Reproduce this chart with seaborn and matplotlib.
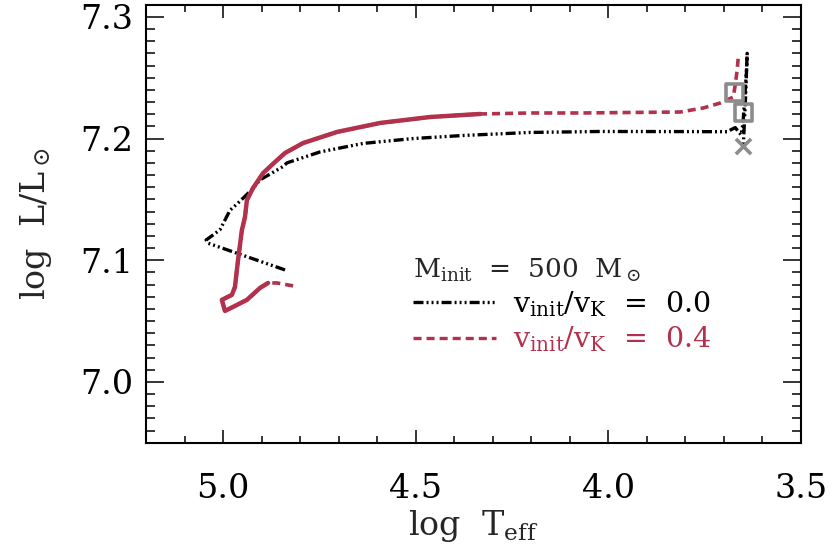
import numpy as np
import pandas as pd
import matplotlib
matplotlib.use("Agg")
import matplotlib.pyplot as plt
import seaborn as sns

# ---- data ----
# v_init/v_K = 0.0 track (log Teff, log L)
teff_v00 = [4.839, 4.930, 5.039, 5.044, 5.029, 5.008, 4.982, 4.961, 4.925, 4.904,
            4.844, 4.834, 4.748, 4.636, 4.506, 4.377, 4.203, 4.021, 3.800, 3.691,
            3.670, 3.655, 3.650, 3.645, 3.641, 3.639, 3.643, 3.649]
logl_v00 = [7.092, 7.102, 7.114, 7.1166, 7.120, 7.125, 7.141, 7.147, 7.158, 7.166,
            7.177, 7.180, 7.189, 7.196, 7.200, 7.2025, 7.205, 7.2058, 7.2057, 7.2056,
            7.209, 7.203, 7.212, 7.235, 7.255, 7.270, 7.235, 7.194]

# v_init/v_K = 0.4 track
teff_v04 = [4.818, 4.860, 4.883, 4.904, 4.938, 4.969, 4.995, 5.003, 4.977, 4.969,
            4.964, 4.961, 4.951, 4.943, 4.938, 4.922, 4.896, 4.865, 4.839, 4.792,
            4.704, 4.592, 4.462, 4.332, 4.203, 4.073, 3.813, 3.753, 3.709, 3.675,
            3.670, 3.665, 3.662]
logl_v04 = [7.0789, 7.0813, 7.0813, 7.0772, 7.0674, 7.0624, 7.0583, 7.0674, 7.0715, 7.0780,
            7.0920, 7.1002, 7.1248, 7.1355, 7.1494, 7.1593, 7.1716, 7.1807, 7.1881, 7.1963,
            7.2054, 7.2128, 7.2177, 7.2202, 7.2210, 7.2210, 7.2218, 7.2251, 7.2292, 7.2341,
            7.2440, 7.2563, 7.2670]

# special points (squares and end cross)
sq_teff = [3.673, 3.649]
sq_logl = [7.238, 7.221]
end_teff = [3.649]
end_logl = [7.194]

mass_label = r"M$_{\rm init}$  =  500  M$_\odot$"
series_labels = [r"v$_{\rm init}$/v$_{\rm K}$  =  0.0", r"v$_{\rm init}$/v$_{\rm K}$  =  0.4"]

RED = "#B2324E"
GRAY = "#8C8C8C"

sns.set_theme(style="ticks")
plt.rcParams["font.family"] = ["DejaVu Serif"]
plt.rcParams["mathtext.fontset"] = "dejavuserif"
plt.rcParams["lines.scale_dashes"] = False

fig = plt.figure(figsize=(8.3, 5.54), dpi=100)
ax = fig.add_axes([146 / 830, 1 - 442.7 / 554, 654.7 / 830, 438 / 554])

df0 = pd.DataFrame({"teff": teff_v00, "logl": logl_v00})
df4 = pd.DataFrame({"teff": teff_v04, "logl": logl_v04})

sns.lineplot(data=df0, x="teff", y="logl", sort=False, estimator=None, ax=ax,
             color="black", lw=2.4)
l0 = ax.lines[-1]
l0.set_dashes([7.2, 2.2, 1.4, 2.2, 1.4, 2.2, 1.4, 2.2])
l0.set_dash_capstyle("butt")

sns.lineplot(data=df4, x="teff", y="logl", sort=False, estimator=None, ax=ax,
             color=RED, lw=2.6)
l4 = ax.lines[-1]
l4.set_dashes([5.8, 3.6])
# dense early part of the rotating track appears solid
sns.lineplot(data=df4.iloc[2:24], x="teff", y="logl", sort=False, estimator=None,
             ax=ax, color=RED, lw=3.2)

sns.scatterplot(x=sq_teff, y=sq_logl, marker="s", s=150, facecolor="none",
                edgecolor=GRAY, linewidth=2.6, ax=ax, zorder=5)
sns.scatterplot(x=end_teff, y=end_logl, marker="x", s=120, color=GRAY,
                linewidth=2.6, ax=ax, zorder=5)

ax.set_xlim(5.2, 3.5)
ax.set_ylim(6.95, 7.31)
ax.set_xticks([5.0, 4.5, 4.0, 3.5])
ax.set_xticklabels(["5.0", "4.5", "4.0", "3.5"])
ax.set_xticks(np.arange(3.5, 5.21, 0.1), minor=True)
ax.set_yticks([7.0, 7.1, 7.2, 7.3])
ax.set_yticklabels(["7.0", "7.1", "7.2", "7.3"])
ax.set_yticks(np.arange(6.95, 7.311, 0.01), minor=True)

ax.tick_params(axis="both", which="both", direction="in", top=True, right=True,
               width=1.1, colors="black")
ax.tick_params(axis="x", which="major", length=9.5, pad=22, labelsize=24)
ax.tick_params(axis="x", which="minor", length=5)
ax.tick_params(axis="y", which="major", length=13, pad=9, labelsize=24)
ax.tick_params(axis="y", which="minor", length=6.5)
for sp in ax.spines.values():
    sp.set_linewidth(1.5)
    sp.set_color("black")

ax.set_xlabel(r"log  T$_{\rm eff}$", fontsize=24, labelpad=2)
ax.set_ylabel(r"log  L/L$_\odot$", fontsize=24, labelpad=19)

leg = ax.legend(handles=[l0, l4], labels=series_labels, title=mass_label,
                loc="upper left", bbox_to_anchor=(0.408, 0.425), frameon=False,
                fontsize=20.5, title_fontsize=19, alignment="left",
                handlelength=2.9, handletextpad=0.6, labelspacing=0.2,
                borderpad=0, borderaxespad=0)
for txt, col in zip(leg.get_texts(), ["black", RED]):
    txt.set_color(col)
for h in leg.legend_handles:
    h.set_linewidth(2.4)

fig.savefig("out.png", dpi=100)
